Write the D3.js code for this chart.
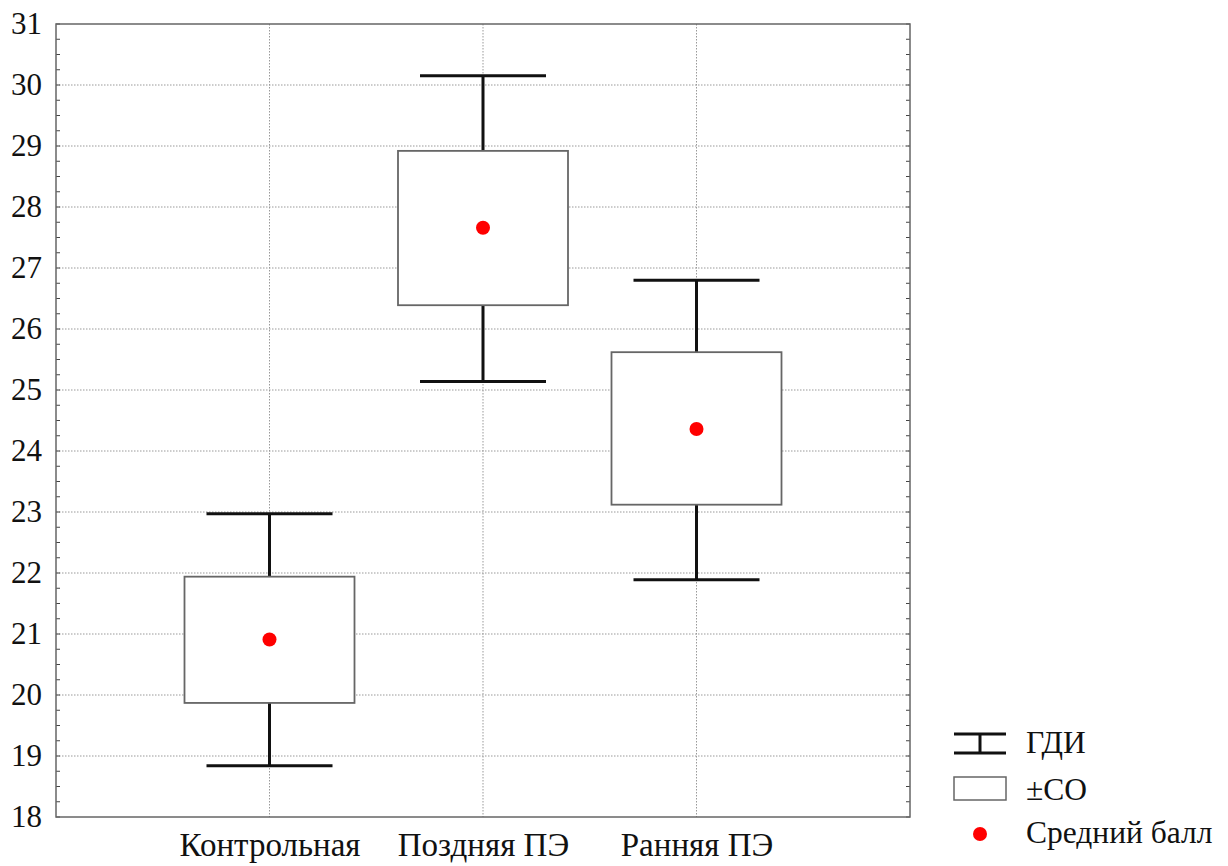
<!DOCTYPE html>
<html>
<head>
<meta charset="utf-8">
<script src="https://cdn.jsdelivr.net/npm/d3@7"></script>
</head>
<body style="margin:0">
<script>
// data
const groups = ['Контрольная', 'Поздняя ПЭ', 'Ранняя ПЭ']
const means = [20.91, 27.66, 24.36]
const sdLow = [19.87, 26.39, 23.12]
const sdHigh = [21.94, 28.92, 25.62]
const ciLow = [18.84, 25.14, 21.89]
const ciHigh = [22.97, 30.15, 26.80]
const yTicks = d3.range(18, 32)
const legendLabels = ['ГДИ', '±СО', 'Средний балл']

const m = { width: 1228, height: 866, left: 56, right: 910, top: 24, bottom: 817 }
const serif = '"Liberation Serif"'

const svg = d3.select('body').append('svg')
    .attr('width', m.width)
    .attr('height', m.height)

const x = d3.scalePoint()
    .domain(groups)
    .range([m.left, m.right])
    .padding(1)

const y = d3.scaleLinear()
    .domain([18, 31])
    .range([m.bottom, m.top])

// dotted grid
svg.append('g')
    .selectAll('line')
    .data(yTicks.slice(1, -1))
    .join('line')
    .attr('x1', m.left).attr('x2', m.right)
    .attr('y1', d => y(d)).attr('y2', d => y(d))
    .attr('stroke', '#999').attr('stroke-dasharray', '1.5,1.5')

svg.append('g')
    .selectAll('line')
    .data(groups)
    .join('line')
    .attr('x1', d => x(d)).attr('x2', d => x(d))
    .attr('y1', m.top).attr('y2', m.bottom)
    .attr('stroke', '#999').attr('stroke-dasharray', '1.5,1.5')

// small inner ticks on both sides
const minor = d3.range(18, 31.01, 0.25)
svg.append('g')
    .selectAll('line')
    .data(minor)
    .join('line')
    .attr('x1', m.left).attr('x2', m.left + 4)
    .attr('y1', d => y(d)).attr('y2', d => y(d))
    .attr('stroke', '#444')
svg.append('g')
    .selectAll('line')
    .data(minor)
    .join('line')
    .attr('x1', m.right - 4).attr('x2', m.right)
    .attr('y1', d => y(d)).attr('y2', d => y(d))
    .attr('stroke', '#444')

// frame
svg.append('rect')
    .attr('x', m.left).attr('y', m.top)
    .attr('width', m.right - m.left).attr('height', m.bottom - m.top)
    .attr('fill', 'none').attr('stroke', '#666').attr('stroke-width', 1.5)

// y axis
const yAxis = d3.axisLeft(y).tickValues(yTicks).tickSize(0).tickPadding(14).tickFormat(d3.format('d'))
const gy = svg.append('g')
    .attr('transform', `translate(${m.left},0)`)
    .call(yAxis)
gy.select('.domain').remove()
gy.selectAll('text')
    .style('font-family', serif).style('font-size', '31px')
    .attr('fill', '#111')

// x axis
const xAxis = d3.axisBottom(x).tickSize(0).tickPadding(16)
const gx = svg.append('g')
    .attr('transform', `translate(0,${m.bottom})`)
    .call(xAxis)
gx.select('.domain').remove()
gx.selectAll('text')
    .style('font-family', serif).style('font-size', '33px')
    .attr('fill', '#111')

const boxHalf = 85
const capHalf = 63

// whiskers (ГДИ)
const w = svg.append('g').attr('stroke', '#111').attr('stroke-width', 3)
groups.forEach((g, i) => {
    w.append('line')
        .attr('x1', x(g)).attr('x2', x(g))
        .attr('y1', y(ciHigh[i])).attr('y2', y(ciLow[i]))
    w.append('line')
        .attr('x1', x(g) - capHalf).attr('x2', x(g) + capHalf)
        .attr('y1', y(ciHigh[i])).attr('y2', y(ciHigh[i]))
    w.append('line')
        .attr('x1', x(g) - capHalf).attr('x2', x(g) + capHalf)
        .attr('y1', y(ciLow[i])).attr('y2', y(ciLow[i]))
})

// boxes (±СО)
svg.append('g')
    .selectAll('rect')
    .data(groups)
    .join('rect')
    .attr('x', d => x(d) - boxHalf)
    .attr('width', boxHalf * 2)
    .attr('y', (d, i) => y(sdHigh[i]))
    .attr('height', (d, i) => y(sdLow[i]) - y(sdHigh[i]))
    .attr('fill', '#fff').attr('stroke', '#666').attr('stroke-width', 1.8)

// means
svg.append('g')
    .selectAll('circle')
    .data(groups)
    .join('circle')
    .attr('cx', d => x(d))
    .attr('cy', (d, i) => y(means[i]))
    .attr('r', 7)
    .attr('fill', '#f00')

// legend
const lg = svg.append('g').attr('transform', 'translate(954,0)')
lg.append('line').attr('x1', 0).attr('x2', 52).attr('y1', 734).attr('y2', 734).attr('stroke', '#111').attr('stroke-width', 3)
lg.append('line').attr('x1', 0).attr('x2', 52).attr('y1', 753).attr('y2', 753).attr('stroke', '#111').attr('stroke-width', 3)
lg.append('line').attr('x1', 26).attr('x2', 26).attr('y1', 734).attr('y2', 753).attr('stroke', '#111').attr('stroke-width', 3)
lg.append('rect').attr('x', 0).attr('y', 777).attr('width', 52).attr('height', 23)
    .attr('fill', '#fff').attr('stroke', '#666').attr('stroke-width', 1.5)
lg.append('circle').attr('cx', 26).attr('cy', 834).attr('r', 7).attr('fill', '#f00')

lg.selectAll('text.lab')
    .data(legendLabels)
    .join('text')
    .attr('class', 'lab')
    .attr('x', 72)
    .attr('y', (d, i) => [753, 800, 843][i])
    .style('font-family', serif).style('font-size', '31.5px')
    .attr('fill', '#111')
    .text(d => d)
</script>
</body>
</html>
